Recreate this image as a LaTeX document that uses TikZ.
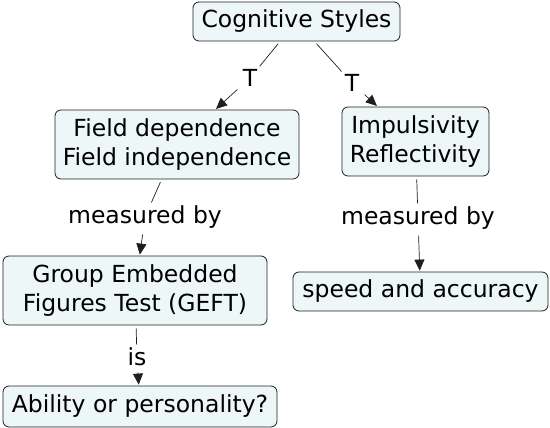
\documentclass[tikz,border=0pt]{standalone}
\usepackage{fontspec}
\setmainfont{DejaVu Sans}
\usetikzlibrary{arrows.meta}
\definecolor{boxfill}{RGB}{237,247,247}
\definecolor{boxline}{RGB}{30,30,30}
\begin{document}
\begin{tikzpicture}[x=1pt,y=-1pt,
  concept/.style={draw=boxline,fill=boxfill,rounded corners=6pt,line width=0.8pt,
    align=center,inner sep=0pt,font=\fontsize{23.5}{29}\selectfont},
  lbl/.style={inner sep=3pt,font=\fontsize{23.5}{29}\selectfont},
  link/.style={draw=boxline,line width=0.7pt,shorten <=3pt},
  arr/.style={link,-{Triangle[length=11pt,width=10pt]},shorten >=1pt}]
\useasboundingbox (0,0) rectangle (550,428);
\node[concept,minimum width=207pt,minimum height=39pt] (cog) at (296.5,21.5) {Cognitive Styles};
\node[concept,minimum width=244pt,minimum height=69pt] (field) at (177,144.5) {Field dependence\\Field independence};
\node[concept,minimum width=147pt,minimum height=69pt] (imp) at (415.5,141.5) {Impulsivity\\Reflectivity};
\node[concept,minimum width=255pt,minimum height=39pt] (speed) at (420.5,291.5) {speed and accuracy};
\node[concept,minimum width=264pt,minimum height=69pt] (geft) at (135,290.5) {Group Embedded\\Figures Test (GEFT)};
\node[concept,minimum width=274pt,minimum height=41pt] (abil) at (140,406.5) {Ability or personality?};
\node[lbl] (t1) at (250,78) {T};
\node[lbl] (t2) at (352,83) {T};
\node[lbl] (m1) at (145,217) {measured by};
\node[lbl] (m2) at (418,218) {measured by};
\node[lbl] (is) at (137,357) {is};
\draw[link] (cog) -- (t1);
\draw[arr] (t1) -- (field);
\draw[link] (cog) -- (t2);
\draw[arr] (t2) -- (imp);
\draw[link] (field) -- (m1);
\draw[arr] (m1) -- (geft);
\draw[link] (imp) -- (m2);
\draw[arr] (m2) -- (speed);
\draw[link] (geft) -- (is);
\draw[arr] (is) -- (abil);
\end{tikzpicture}
\end{document}
